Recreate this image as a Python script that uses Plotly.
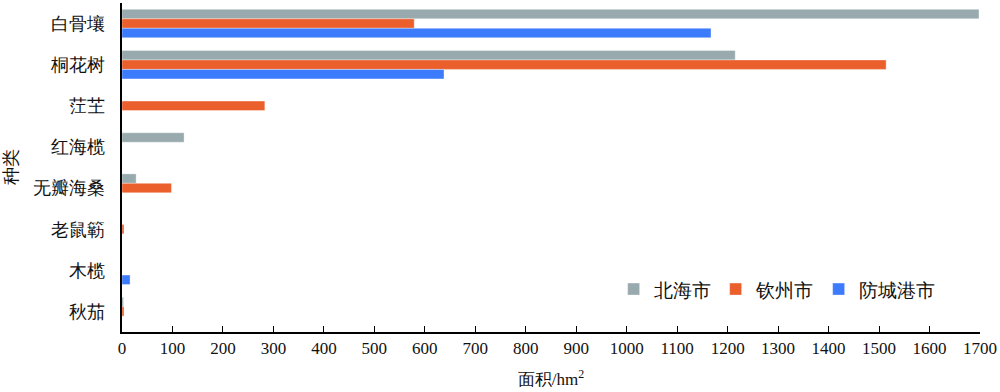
import plotly.graph_objects as go

categories = ["白骨壤", "桐花树", "茳芏", "红海榄", "无瓣海桑", "老鼠簕", "木榄", "秋茄"]
series_names = ["北海市", "钦州市", "防城港市"]
beihai = [1698, 1215, 0, 123, 28, 0, 0, 3]
qinzhou = [579, 1514, 283, 0, 98, 4, 0, 4]
fangchenggang = [1167, 638, 0, 0, 0, 0, 16, 0]
colors = ["#98AAAE", "#EB5F2D", "#3D7BFD"]

font_fam = "Times New Roman, Liberation Serif, DejaVu Serif, serif"

fig = go.Figure()
for name, vals, col in zip(series_names, [beihai, qinzhou, fangchenggang], colors):
    fig.add_trace(go.Bar(
        y=categories, x=vals, name=name, orientation="h",
        marker=dict(color=col, line=dict(color="rgba(255,255,255,0.6)", width=0.6)),
    ))

fig.update_layout(
    width=1000, height=392,
    margin=dict(l=122, r=20, t=3, b=60),
    barmode="group", bargap=0.31, bargroupgap=0,
    plot_bgcolor="white", paper_bgcolor="white",
    font=dict(family=font_fam, size=17, color="#111"),
    legend=dict(orientation="h", x=0.573, y=0.13, xanchor="left", yanchor="middle",
                font=dict(size=19), bgcolor="rgba(0,0,0,0)", itemwidth=30,
                traceorder="normal"),
)
fig.update_xaxes(
    range=[0, 1700], dtick=100, tick0=0,
    ticks="inside", ticklen=6, tickcolor="black", tickwidth=1,
    showline=True, linecolor="black", linewidth=1.5,
    showgrid=False, zeroline=False, automargin=False,
    tickfont=dict(size=17),
    title=dict(text="面积/hm<sup>2</sup>", font=dict(size=17), standoff=16),
)
fig.update_yaxes(
    categoryorder="array", categoryarray=categories, autorange="reversed",
    ticks="", showline=True, linecolor="black", linewidth=1.5,
    showgrid=False, ticklabelstandoff=12, automargin=False,
    tickfont=dict(size=18),
    title=dict(text="种类", font=dict(size=18), standoff=10),
)

fig.write_html("out.html", config={"displayModeBar": False},
               post_script="document.body.style.margin='0';")
